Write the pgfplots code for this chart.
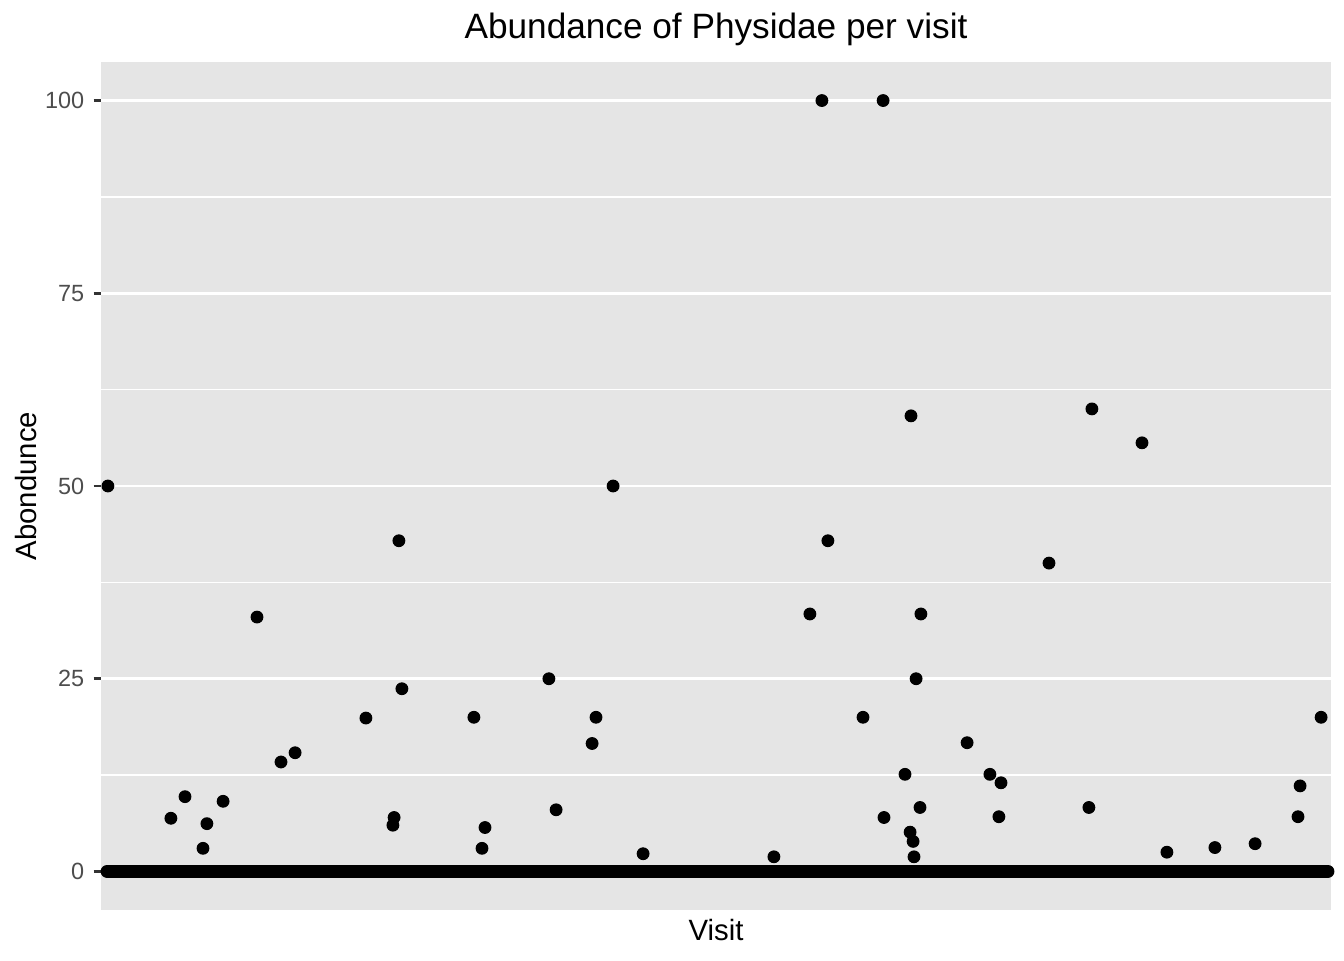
\documentclass[border=0pt]{standalone}
\usepackage{fontspec}
\setmainfont{Liberation Sans}
\usepackage{pgfplots}
\pgfplotsset{compat=1.18}
\definecolor{panel}{HTML}{E5E5E5}
\definecolor{tickgrey}{HTML}{4D4D4D}
\definecolor{axisgrey}{HTML}{333333}
\begin{document}
\begin{tikzpicture}
\path[use as bounding box] (0,0) rectangle (504pt,360pt);
\begin{axis}[
 at={(37.875pt,18.75pt)}, anchor=south west,
 scale only axis, width=461.25pt, height=318pt,
 xmin=-1, xmax=409, ymin=-5, ymax=105,
 axis background/.style={fill=panel},
 axis line style={draw=none},
 xtick=\empty,
 ytick={0,25,50,75,100},
 minor ytick={12.5,37.5,62.5,87.5},
 ymajorgrids, yminorgrids,
 major grid style={white, line width=1.07pt},
 minor grid style={white, line width=0.53pt},
 tick align=outside,
 ytick pos=left,
 major tick length=2.75pt,
 minor tick length=0pt,
 ytick style={axisgrey, line width=1.07pt},
 yticklabel style={font=\fontsize{8.8}{10}\selectfont, text=tickgrey},
 /pgf/number format/assume math mode=true,
]
\addplot[only marks, mark=*, mark size=2.2pt, black] table[row sep=\\, x expr=\coordindex/2+1, y=y] {
y\\
0\\0\\0\\0\\0\\0\\0\\0\\0\\0\\0\\0\\0\\0\\0\\0\\0\\0\\0\\0\\
0\\0\\0\\0\\0\\0\\0\\0\\0\\0\\0\\0\\0\\0\\0\\0\\0\\0\\0\\0\\
0\\0\\0\\0\\0\\0\\0\\0\\0\\0\\0\\0\\0\\0\\0\\0\\0\\0\\0\\0\\
0\\0\\0\\0\\0\\0\\0\\0\\0\\0\\0\\0\\0\\0\\0\\0\\0\\0\\0\\0\\
0\\0\\0\\0\\0\\0\\0\\0\\0\\0\\0\\0\\0\\0\\0\\0\\0\\0\\0\\0\\
0\\0\\0\\0\\0\\0\\0\\0\\0\\0\\0\\0\\0\\0\\0\\0\\0\\0\\0\\0\\
0\\0\\0\\0\\0\\0\\0\\0\\0\\0\\0\\0\\0\\0\\0\\0\\0\\0\\0\\0\\
0\\0\\0\\0\\0\\0\\0\\0\\0\\0\\0\\0\\0\\0\\0\\0\\0\\0\\0\\0\\
0\\0\\0\\0\\0\\0\\0\\0\\0\\0\\0\\0\\0\\0\\0\\0\\0\\0\\0\\0\\
0\\0\\0\\0\\0\\0\\0\\0\\0\\0\\0\\0\\0\\0\\0\\0\\0\\0\\0\\0\\
0\\0\\0\\0\\0\\0\\0\\0\\0\\0\\0\\0\\0\\0\\0\\0\\0\\0\\0\\0\\
0\\0\\0\\0\\0\\0\\0\\0\\0\\0\\0\\0\\0\\0\\0\\0\\0\\0\\0\\0\\
0\\0\\0\\0\\0\\0\\0\\0\\0\\0\\0\\0\\0\\0\\0\\0\\0\\0\\0\\0\\
0\\0\\0\\0\\0\\0\\0\\0\\0\\0\\0\\0\\0\\0\\0\\0\\0\\0\\0\\0\\
0\\0\\0\\0\\0\\0\\0\\0\\0\\0\\0\\0\\0\\0\\0\\0\\0\\0\\0\\0\\
0\\0\\0\\0\\0\\0\\0\\0\\0\\0\\0\\0\\0\\0\\0\\0\\0\\0\\0\\0\\
0\\0\\0\\0\\0\\0\\0\\0\\0\\0\\0\\0\\0\\0\\0\\0\\0\\0\\0\\0\\
0\\0\\0\\0\\0\\0\\0\\0\\0\\0\\0\\0\\0\\0\\0\\0\\0\\0\\0\\0\\
0\\0\\0\\0\\0\\0\\0\\0\\0\\0\\0\\0\\0\\0\\0\\0\\0\\0\\0\\0\\
0\\0\\0\\0\\0\\0\\0\\0\\0\\0\\0\\0\\0\\0\\0\\0\\0\\0\\0\\0\\
0\\0\\0\\0\\0\\0\\0\\0\\0\\0\\0\\0\\0\\0\\0\\0\\0\\0\\0\\0\\
0\\0\\0\\0\\0\\0\\0\\0\\0\\0\\0\\0\\0\\0\\0\\0\\0\\0\\0\\0\\
0\\0\\0\\0\\0\\0\\0\\0\\0\\0\\0\\0\\0\\0\\0\\0\\0\\0\\0\\0\\
0\\0\\0\\0\\0\\0\\0\\0\\0\\0\\0\\0\\0\\0\\0\\0\\0\\0\\0\\0\\
0\\0\\0\\0\\0\\0\\0\\0\\0\\0\\0\\0\\0\\0\\0\\0\\0\\0\\0\\0\\
0\\0\\0\\0\\0\\0\\0\\0\\0\\0\\0\\0\\0\\0\\0\\0\\0\\0\\0\\0\\
0\\0\\0\\0\\0\\0\\0\\0\\0\\0\\0\\0\\0\\0\\0\\0\\0\\0\\0\\0\\
0\\0\\0\\0\\0\\0\\0\\0\\0\\0\\0\\0\\0\\0\\0\\0\\0\\0\\0\\0\\
0\\0\\0\\0\\0\\0\\0\\0\\0\\0\\0\\0\\0\\0\\0\\0\\0\\0\\0\\0\\
0\\0\\0\\0\\0\\0\\0\\0\\0\\0\\0\\0\\0\\0\\0\\0\\0\\0\\0\\0\\
0\\0\\0\\0\\0\\0\\0\\0\\0\\0\\0\\0\\0\\0\\0\\0\\0\\0\\0\\0\\
0\\0\\0\\0\\0\\0\\0\\0\\0\\0\\0\\0\\0\\0\\0\\0\\0\\0\\0\\0\\
0\\0\\0\\0\\0\\0\\0\\0\\0\\0\\0\\0\\0\\0\\0\\0\\0\\0\\0\\0\\
0\\0\\0\\0\\0\\0\\0\\0\\0\\0\\0\\0\\0\\0\\0\\0\\0\\0\\0\\0\\
0\\0\\0\\0\\0\\0\\0\\0\\0\\0\\0\\0\\0\\0\\0\\0\\0\\0\\0\\0\\
0\\0\\0\\0\\0\\0\\0\\0\\0\\0\\0\\0\\0\\0\\0\\0\\0\\0\\0\\0\\
0\\0\\0\\0\\0\\0\\0\\0\\0\\0\\0\\0\\0\\0\\0\\0\\0\\0\\0\\0\\
0\\0\\0\\0\\0\\0\\0\\0\\0\\0\\0\\0\\0\\0\\0\\0\\0\\0\\0\\0\\
0\\0\\0\\0\\0\\0\\0\\0\\0\\0\\0\\0\\0\\0\\0\\0\\0\\0\\0\\0\\
0\\0\\0\\0\\0\\0\\0\\0\\0\\0\\0\\0\\0\\0\\0\\0\\0\\0\\0\\0\\
0\\0\\0\\0\\0\\0\\0\\0\\0\\0\\0\\0\\0\\0\\0\\
};
\addplot[only marks, mark=*, mark size=2.2pt, black] coordinates {
(1.3,50.0) (22.3,6.9) (27,9.7) (33,3.0) (34.3,6.2) (39.7,9.1)
(51,33.0) (59,14.2) (63.7,15.4) (87.3,19.9) (96.3,6.0) (96.7,7.0)
(98.3,42.9) (99.3,23.7) (123.3,20.0) (126,3.0) (127,5.7) (148.3,25.0)
(150.7,8.0) (162.7,16.6) (164,20.0) (169.7,50.0) (179.7,2.3)
(223.3,1.9) (235.3,33.4) (239.3,100.0) (241.3,42.9) (253,20.0)
(259.7,100.0) (260,7.0) (267,12.6) (268.7,5.1) (269,59.1) (269.7,3.9)
(270,1.9) (270.7,25.0) (272,8.3) (272.3,33.4) (287.7,16.7)
(295.3,12.6) (299,11.5) (298.3,7.1) (315,40.0) (328.3,8.3)
(329.3,60.0) (346,55.6) (354.3,2.5) (370.3,3.1) (383.7,3.6)
(398,7.1) (398.7,11.1) (405.7,20.0)
};
\end{axis}
\node[font=\fontsize{13.2}{15}\selectfont, anchor=base, inner sep=0pt] at (268.5pt,345.75pt) {Abundance of Physidae per visit};
\node[font=\fontsize{11}{13}\selectfont, anchor=base, inner sep=0pt] at (268.5pt,7.5pt) {Visit};
\node[font=\fontsize{11}{13}\selectfont, anchor=base, rotate=90, inner sep=0pt] at (13.5pt,177.75pt) {Abondunce};
\end{tikzpicture}
\end{document}
